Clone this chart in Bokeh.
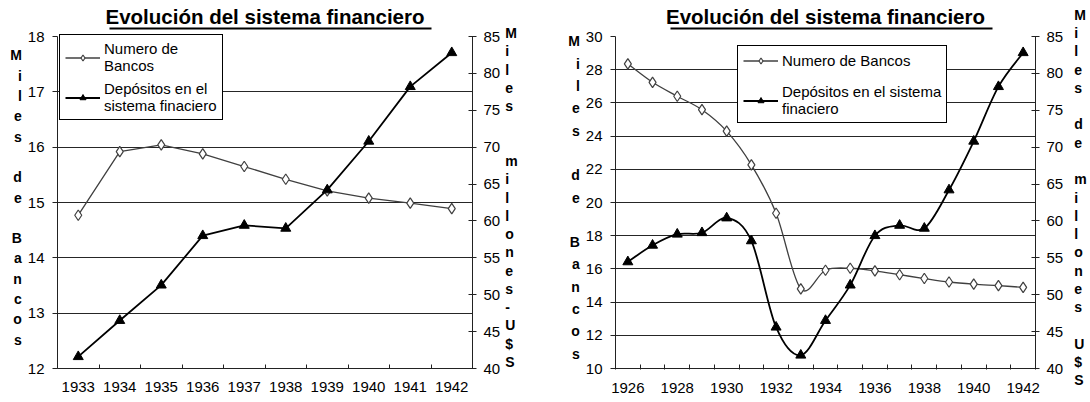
import numpy as np
from bokeh.plotting import figure
from bokeh.models import (Range1d, LinearAxis, FixedTicker, BoxAnnotation,
                          Legend, LegendItem, ColumnDataSource)
from bokeh.layouts import row
from bokeh.embed import file_html
from bokeh.resources import INLINE

# ---------------- data ----------------
TITLE = "Evolución del sistema financiero"

years_a = [1933, 1934, 1935, 1936, 1937, 1938, 1939, 1940, 1941, 1942]
bancos_a = [14.77, 15.92, 16.04, 15.88, 15.65, 15.42, 15.21, 15.08, 14.99, 14.89]
depositos_a = [41.6, 46.5, 51.3, 58.0, 59.4, 59.0, 64.2, 70.8, 78.2, 82.8]

years_b = [1926, 1927, 1928, 1929, 1930, 1931, 1932, 1933, 1934, 1935,
           1936, 1937, 1938, 1939, 1940, 1941, 1942]
bancos_b = [28.35, 27.24, 26.40, 25.59, 24.30, 22.27, 19.35, 14.80, 15.92, 16.04,
            15.88, 15.65, 15.42, 15.21, 15.08, 14.99, 14.89]
depositos_b = [54.45, 56.7, 58.2, 58.4, 60.4, 57.3, 45.6, 41.8, 46.5, 51.3,
               58.0, 59.4, 59.0, 64.2, 70.8, 78.2, 82.8]

left_ticks_a = [12, 13, 14, 15, 16, 17, 18]
grid_a = [13, 14, 15, 16, 17]
left_ticks_b = [10, 12, 14, 16, 18, 20, 22, 24, 26, 28, 30]
grid_b = [12, 14, 16, 18, 20, 22, 24, 26, 28]
right_ticks = [40, 45, 50, 55, 60, 65, 70, 75, 80, 85]
year_labels_a = years_a
year_labels_b = years_b[::2]

legend_bancos_a = "Numero de\nBancos"
legend_dep_a = "Depósitos en el\nsistema finaciero"
legend_bancos_b = "Numero de Bancos"
legend_dep_b = "Depósitos en el sistema\nfinaciero"

left_title_a = "Miles de Bancos"
right_title_a = "Miles  millones-U$S"
left_title_b = "Miles de Bancos"
right_title_b = "Miles de millones U$S"

FONT = "Liberation Sans"
H = 400
FRAME_TOP = 26       # frame starts just above the title underline
AXIS_TOP = 36        # pixel row of the top tick of both y axes
FRAME_BOTTOM = 368   # pixel row of the x axis
LINE_UNIT = 16.07    # px per unit of text_line_height for 14px bold text


def bezier_source(xs, ys):
    P = np.column_stack([np.asarray(xs, float), np.asarray(ys, float)])
    n = len(P)
    d = {k: [] for k in ("x0", "y0", "x1", "y1", "cx0", "cy0", "cx1", "cy1")}
    for i in range(n - 1):
        p0 = P[i - 1] if i > 0 else P[i]
        p1, p2 = P[i], P[i + 1]
        p3 = P[i + 2] if i + 2 < n else P[i + 1]
        c1 = p1 + (p2 - p0) / 6.0
        c2 = p2 - (p3 - p1) / 6.0
        d["x0"].append(p1[0]); d["y0"].append(p1[1])
        d["x1"].append(p2[0]); d["y1"].append(p2[1])
        d["cx0"].append(c1[0]); d["cy0"].append(c1[1])
        d["cx1"].append(c2[0]); d["cy1"].append(c2[1])
    return ColumnDataSource(d)


def style_axis_label(ax, text, standoff, spacing_px):
    ax.axis_label = "\n".join(list(text))
    ax.axis_label_orientation = "horizontal"
    ax.axis_label_text_font = FONT
    ax.axis_label_text_font_style = "bold"
    ax.axis_label_text_font_size = "14px"
    ax.axis_label_text_color = "black"
    ax.axis_label_text_line_height = spacing_px / LINE_UNIT
    ax.axis_label_standoff = standoff


def style_ticks(ax, tick_in, tick_out, standoff):
    ax.major_tick_in = tick_in
    ax.major_tick_out = tick_out
    ax.minor_tick_in = 0
    ax.minor_tick_out = 0
    ax.axis_line_color = "#222222"
    ax.major_tick_line_color = "#222222"
    ax.major_label_text_font = FONT
    ax.major_label_text_font_size = "15px"
    ax.major_label_text_color = "black"
    ax.major_label_standoff = standoff


def make_chart(years, bancos, deps, lticks, grid, xlabels, smooth,
               width, canvas_left, frame_left, frame_right,
               leg_labels, leg_xy, leg_spacing, title_center, left_t, right_t,
               minor_out):
    lo, hi = lticks[0], lticks[-1]
    extra = (FRAME_BOTTOM - FRAME_TOP) / (FRAME_BOTTOM - AXIS_TOP)
    y_end = lo + (hi - lo) * extra
    r_lo, r_hi = right_ticks[0], right_ticks[-1]
    r_end = r_lo + (r_hi - r_lo) * extra

    p = figure(width=width, height=H, output_backend="svg", toolbar_location=None,
               x_range=Range1d(years[0] - 0.5, years[-1] + 0.5),
               y_range=Range1d(lo, y_end),
               min_border_left=frame_left - canvas_left,
               min_border_right=canvas_left + width - frame_right,
               min_border_top=FRAME_TOP,
               min_border_bottom=H - FRAME_BOTTOM,
               background_fill_color="white", border_fill_color="white")
    p.outline_line_color = None
    p.extra_y_ranges = {"dep": Range1d(r_lo, r_end)}

    # title (underlined)
    p.title.text = TITLE
    p.title.align = "center"
    p.title.offset = title_center - (frame_left + frame_right) / 2
    p.title.standoff = -3
    p.title.text_font = FONT
    p.title.text_font_style = "bold"
    p.title.text_font_size = "20.5px"
    p.title.text_color = "black"
    half = 161
    p.add_layout(BoxAnnotation(left=title_center - half - frame_left,
                               right=title_center + half - frame_left,
                               top=FRAME_BOTTOM - 27, bottom=FRAME_BOTTOM - 29,
                               left_units="screen", right_units="screen",
                               top_units="screen", bottom_units="screen",
                               fill_color="black", fill_alpha=1, line_color=None))

    # x axis: labels under the categories, ticks between them
    xa = p.xaxis[0]
    bounds = [y - 0.5 for y in years] + [years[-1] + 0.5]
    xa.ticker = FixedTicker(ticks=xlabels, minor_ticks=bounds)
    style_ticks(xa, 0, 0, 13)
    xa.minor_tick_in = 4
    xa.minor_tick_out = minor_out
    xa.minor_tick_line_color = "#222222"

    # left axis
    ya = p.yaxis[0]
    ya.ticker = FixedTicker(ticks=lticks)
    ya.bounds = (lo, hi)
    style_ticks(ya, 0, 5, 8)
    style_axis_label(ya, left_t[0], left_t[1], left_t[2])

    # right axis
    ra = LinearAxis(y_range_name="dep", ticker=FixedTicker(ticks=right_ticks),
                    bounds=(r_lo, r_hi))
    style_ticks(ra, 4, 4, 7)
    style_axis_label(ra, right_t[0], right_t[1], right_t[2])
    p.add_layout(ra, "right")

    p.xgrid.visible = False
    p.ygrid.ticker = FixedTicker(ticks=grid)
    p.ygrid.grid_line_color = "#262626"
    p.ygrid.grid_line_width = 1

    # series
    if smooth:
        rb = p.bezier("x0", "y0", "x1", "y1", "cx0", "cy0", "cx1", "cy1",
                      source=bezier_source(years, bancos),
                      line_color="#404040", line_width=1.3)
        rd = p.bezier("x0", "y0", "x1", "y1", "cx0", "cy0", "cx1", "cy1",
                      source=bezier_source(years, deps), y_range_name="dep",
                      line_color="black", line_width=1.8)
    else:
        rb = p.line(years, bancos, line_color="#404040", line_width=1.3)
        rd = p.line(years, deps, line_color="black", line_width=1.8, y_range_name="dep")
    sb = p.scatter(years, bancos, marker="diamond", size=10.5, fill_color="white",
                   line_color="#404040", line_width=1.2)
    sd = p.scatter(years, deps, marker="triangle", size=10, fill_color="black",
                   line_color="black", y_range_name="dep")

    legend = Legend(items=[LegendItem(label=leg_labels[0], renderers=[rb, sb]),
                           LegendItem(label=leg_labels[1], renderers=[rd, sd])],
                    location=leg_xy,
                    label_text_font=FONT, label_text_font_size="15px",
                    label_text_color="black", label_text_line_height=1.05,
                    glyph_width=35, glyph_height=15, label_height=18,
                    label_standoff=4, padding=5, spacing=leg_spacing, margin=0,
                    border_line_color="black", border_line_width=1, border_line_alpha=1,
                    background_fill_color="white", background_fill_alpha=1)
    p.add_layout(legend)
    return p


p1 = make_chart(years_a, bancos_a, depositos_a, left_ticks_a, grid_a, year_labels_a, False,
                width=545, canvas_left=0, frame_left=57, frame_right=472,
                leg_labels=(legend_bancos_a, legend_dep_a), leg_xy=(2, 248), leg_spacing=6,
                title_center=270,
                left_t=(left_title_a, 3, 20.4),
                right_t=(right_title_a, 2, 18.33),
                minor_out=0)

p2 = make_chart(years_b, bancos_b, depositos_b, left_ticks_b, grid_b, year_labels_b, True,
                width=544, canvas_left=545, frame_left=615, frame_right=1035,
                leg_labels=(legend_bancos_b, legend_dep_b), leg_xy=(122, 245), leg_spacing=14,
                title_center=831,
                left_t=(left_title_b, 3, 22.4),
                right_t=(right_title_b, 8, 18.33),
                minor_out=1)

layout = row(p1, p2)
open("out.html", "w").write(file_html(layout, INLINE))
